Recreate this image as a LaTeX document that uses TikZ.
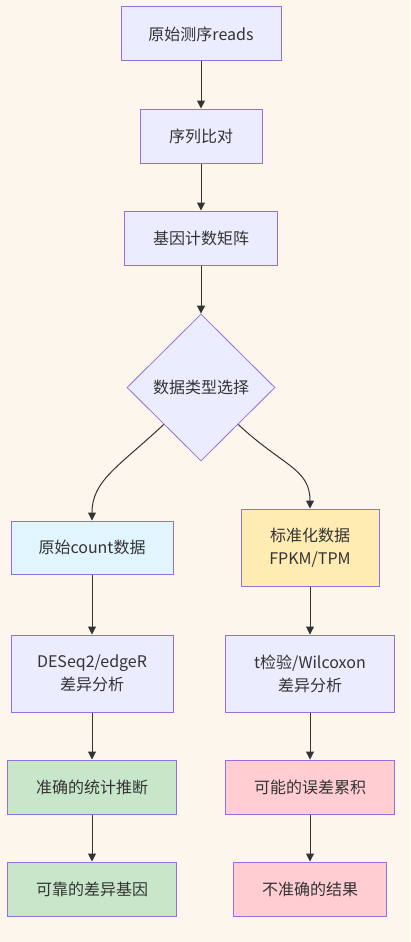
\documentclass[tikz,border=0pt]{standalone}
\usepackage{fontspec}
\setmainfont{Noto Sans CJK SC}
\usetikzlibrary{shapes.geometric,arrows.meta,calc}
\definecolor{bgc}{HTML}{FDF6EC}
\definecolor{mainfill}{HTML}{ECECFF}
\definecolor{strokec}{HTML}{9370DB}
\definecolor{bluefill}{HTML}{E1F5FE}
\definecolor{yellowfill}{HTML}{FFECB3}
\definecolor{greenfill}{HTML}{C8E6C9}
\definecolor{pinkfill}{HTML}{FFCDD2}
\definecolor{txt}{HTML}{333333}
\definecolor{edgec}{HTML}{333333}
\tikzset{
  box/.style={draw=strokec, line width=1pt, fill=mainfill, text=txt, inner sep=0pt, align=center,
    font=\fontsize{16}{23}\selectfont},
  dia/.style={diamond, draw=strokec, line width=0.8pt, fill=mainfill, text=txt, inner sep=0pt, aspect=1,
    font=\fontsize{16}{23}\selectfont},
  conn/.style={draw=edgec, line width=1pt, -{Triangle[length=8pt,width=8pt]}},
}
\begin{document}
\begin{tikzpicture}[x=1pt,y=-1pt]
\fill[bgc] (0,0) rectangle (410,942);
\useasboundingbox (0,0) rectangle (410,942);
\node[box, minimum width=160pt, minimum height=54pt] (n1) at (201,34) {原始测序reads};
\node[box, minimum width=122pt, minimum height=54pt] (n2) at (201,136) {序列比对};
\node[box, minimum width=153pt, minimum height=54pt] (n3) at (201,238) {基因计数矩阵};
\node[dia, minimum width=148pt, minimum height=147pt] (d) at (201,387.5) {数据类型选择};
\node[box, fill=bluefill, minimum width=162pt, minimum height=53pt] (l1) at (92,547.5) {原始count数据};
\node[box, fill=yellowfill, minimum width=138pt, minimum height=77pt] (r1) at (310,547.5) {标准化数据\\FPKM/TPM};
\node[box, minimum width=162pt, minimum height=77pt] (l2) at (92,673.5) {DESeq2/edgeR\\差异分析};
\node[box, minimum width=169pt, minimum height=77pt] (r2) at (310,673.5) {t检验/Wilcoxon\\差异分析};
\node[box, fill=greenfill, minimum width=169pt, minimum height=54pt] (l3) at (92,787) {准确的统计推断};
\node[box, fill=pinkfill, minimum width=169pt, minimum height=54pt] (r3) at (310,787) {可能的误差累积};
\node[box, fill=greenfill, minimum width=169pt, minimum height=54pt] (l4) at (92,889) {可靠的差异基因};
\node[box, fill=pinkfill, minimum width=153pt, minimum height=54pt] (r4) at (310,889) {不准确的结果};
\draw[conn] (n1) -- (n2);
\draw[conn] (n2) -- (n3);
\draw[conn] (n3) -- (d);
\draw[conn] ($(d.west)!0.5!(d.south)$) .. controls +(-45,42) and +(0,-40) .. (l1.north);
\draw[conn] ($(d.east)!0.5!(d.south)$) .. controls +(45,42) and +(0,-40) .. (r1.north);
\draw[conn] (l1) -- (l2);
\draw[conn] (l2) -- (l3);
\draw[conn] (l3) -- (l4);
\draw[conn] (r1) -- (r2);
\draw[conn] (r2) -- (r3);
\draw[conn] (r3) -- (r4);
\end{tikzpicture}
\end{document}
